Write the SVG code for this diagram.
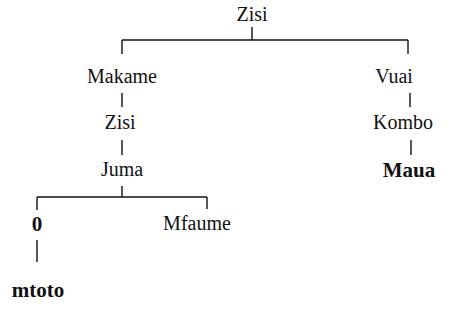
<svg xmlns="http://www.w3.org/2000/svg" width="455" height="324" viewBox="0 0 455 324">
<style>
text{font-family:'Liberation Serif','Times New Roman','DejaVu Serif',serif;font-size:20px;fill:#111;text-anchor:middle}
.b{font-weight:bold;font-size:21px}
#edges line{stroke:#111;stroke-width:1.4;fill:none}
</style>
<rect width="455" height="324" fill="#fff"/>
<g id="edges">
<line x1="252" y1="27" x2="252" y2="40"/>
<line x1="122" y1="40" x2="408" y2="40"/>
<line x1="122" y1="40" x2="122" y2="54"/>
<line x1="408" y1="40" x2="408" y2="54"/>
<line x1="122" y1="93" x2="122" y2="107"/>
<line x1="122" y1="140" x2="122" y2="155"/>
<line x1="122" y1="186" x2="122" y2="197"/>
<line x1="37" y1="197" x2="207" y2="197"/>
<line x1="37" y1="197" x2="37" y2="210"/>
<line x1="207" y1="197" x2="207" y2="209"/>
<line x1="37" y1="240" x2="37" y2="262"/>
<line x1="410" y1="93" x2="410" y2="107"/>
<line x1="411" y1="140" x2="411" y2="155"/>
</g>
<g id="n-zisi-top"><text x="252" y="21">Zisi</text></g>
<g id="n-makame"><text x="122" y="83">Makame</text></g>
<g id="n-zisi"><text x="120" y="129">Zisi</text></g>
<g id="n-juma"><text x="122" y="176">Juma</text></g>
<g id="n-0"><text class="b" x="37" y="231">0</text></g>
<g id="n-mfaume"><text x="197" y="230">Mfaume</text></g>
<g id="n-mtoto"><text class="b" x="38" y="297">mtoto</text></g>
<g id="n-vuai"><text x="394" y="83">Vuai</text></g>
<g id="n-kombo"><text x="403" y="129">Kombo</text></g>
<g id="n-maua"><text class="b" x="409" y="177">Maua</text></g>
</svg>
